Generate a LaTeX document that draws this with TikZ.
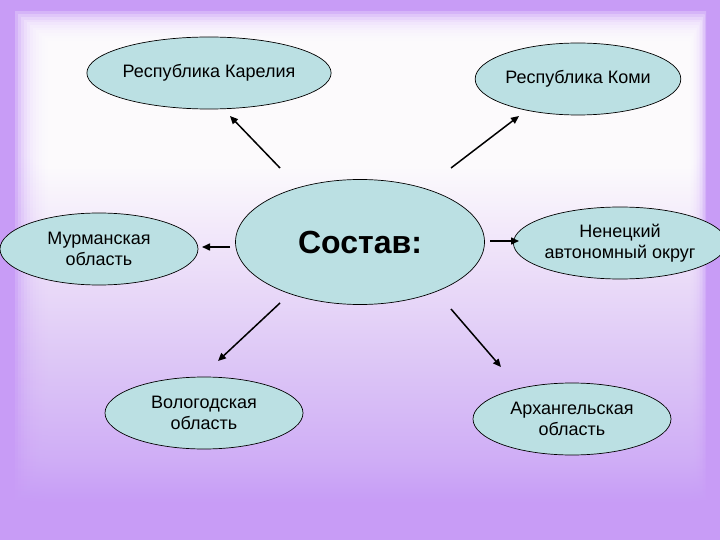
\documentclass[tikz,border=0pt]{standalone}
\usepackage{fontspec}
\setmainfont{Liberation Sans}
\usetikzlibrary{shapes.geometric,arrows.meta}
\definecolor{purp}{RGB}{200,156,246}
\definecolor{bgc1}{RGB}{210,176,247}
\definecolor{bgc2}{RGB}{224,202,249}
\definecolor{bgc3}{RGB}{240,229,252}
\definecolor{ovfill}{RGB}{187,224,227}
\pgfdeclareverticalshading{bgshade}{100bp}{color(0bp)=(purp); color(28bp)=(purp); color(33bp)=(bgc1); color(43bp)=(bgc2); color(53bp)=(bgc3); color(62bp)=(white); color(100bp)=(white)}
\tikzset{
  region/.style={ellipse, draw=black, line width=0.7pt, fill=ovfill,
    minimum width=198pt, minimum height=72pt, inner sep=0pt, align=center,
    font=\fontsize{18}{21}\selectfont},
  link/.style={-{Triangle[length=8pt,width=7pt]}, line width=1.5pt, draw=black}
}
\begin{document}
\begin{tikzpicture}[x=1pt,y=-1pt]
\useasboundingbox (0,0) rectangle (720,540);
% background
\fill[purp] (0,0) rectangle (720,540);
\foreach \i in {0,...,11}{
  \pgfmathsetmacro\dl{15+3*\i}
  \pgfmathsetmacro\dt{12+2.7*\i}
  \pgfmathsetmacro\dr{706-1.5*\i}
  \shade[shading=bgshade, opacity=0.25] (\dl,\dt) rectangle (\dr,540);
}
% nodes
\node[region] (kar) at (209,73) {Республика Карелия};
\node[region] (komi) at (578,79) {Республика Коми};
\node[region, minimum width=249pt, minimum height=125pt,
      font=\fontsize{32}{36}\selectfont\bfseries] (sost) at (360,242) {Состав:};
\node[region] (mur) at (99,249) {Мурманская\\область};
\node[region] (nen) at (620,243) {Ненецкий\\автономный округ};
\node[region] (vol) at (204,413) {Вологодская\\область};
\node[region] (arh) at (572,419) {Архангельская\\область};
% arrow end points
\coordinate (s1) at (280,168); \coordinate (e1) at (230,116);
\coordinate (s2) at (451,168); \coordinate (e2) at (519,116);
\coordinate (s3) at (230,247); \coordinate (e3) at (202,247);
\coordinate (s4) at (490,241); \coordinate (e4) at (519,241);
\coordinate (s5) at (280,303); \coordinate (e5) at (218,361);
\coordinate (s6) at (451,309); \coordinate (e6) at (501,367);
\draw[link] (s1) -- (e1);
\draw[link] (s2) -- (e2);
\draw[link] (s3) -- (e3);
\draw[link] (s4) -- (e4);
\draw[link] (s5) -- (e5);
\draw[link] (s6) -- (e6);
\end{tikzpicture}
\end{document}
